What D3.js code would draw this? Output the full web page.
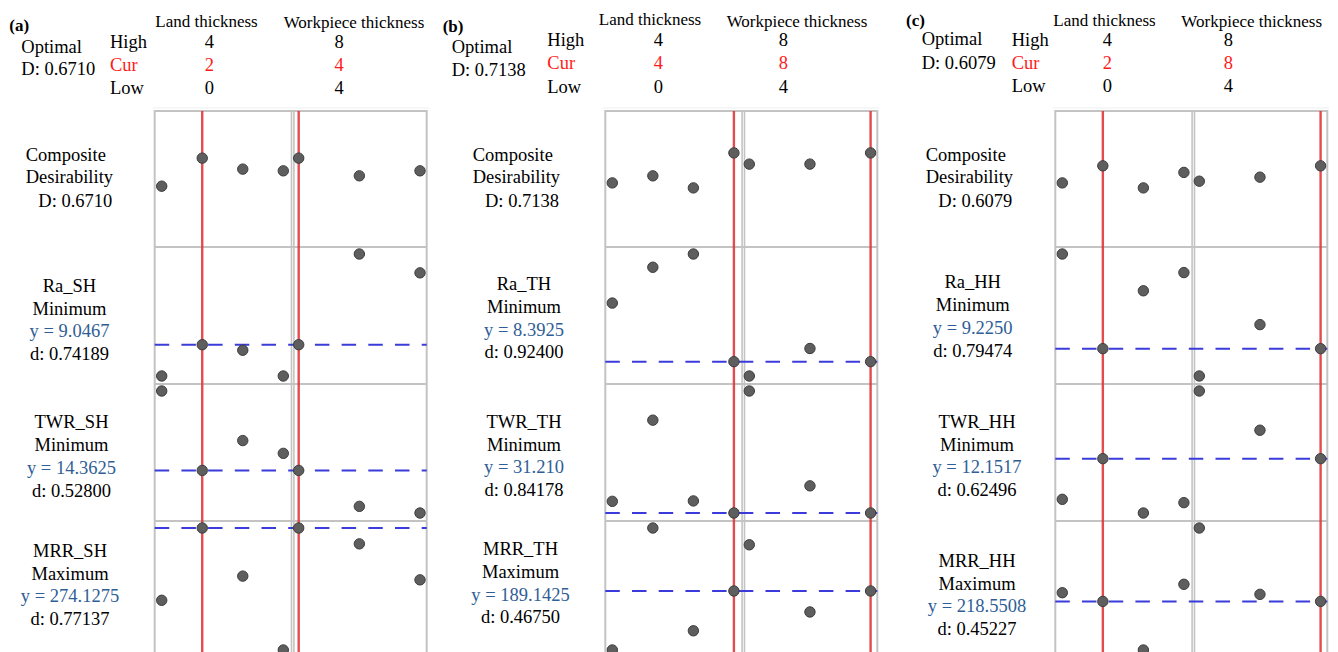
<!DOCTYPE html>
<html><head><meta charset="utf-8">
<script src="https://cdn.jsdelivr.net/npm/d3@7"></script>
<style>
body{margin:0;background:#fff;}
svg{display:block;}
text{font-family:"Liberation Serif","Times New Roman",serif;fill:#000;}
</style>
</head><body>
<svg id="chart" width="1338" height="652"></svg>
<script>
// ---------------- data ----------------
const panelIds = ["(a)", "(b)", "(c)"];
const optimalD = ["0.6710", "0.7138", "0.6079"];
const factorNames = ["Land thickness", "Workpiece thickness"];
const landLevels = ["0", "2", "3", "4"];
const workLevels = ["4", "6", "8"];
const highSettings = ["4", "8"];
const lowSettings = ["0", "4"];
const curSettings = [["2", "4"], ["4", "8"], ["2", "8"]];
const responseNames = [["Ra_SH", "TWR_SH", "MRR_SH"], ["Ra_TH", "TWR_TH", "MRR_TH"], ["Ra_HH", "TWR_HH", "MRR_HH"]];
const goals = ["Minimum", "Minimum", "Maximum"];
const predictedY = [["9.0467", "14.3625", "274.1275"], ["8.3925", "31.210", "189.1425"], ["9.2250", "12.1517", "218.5508"]];
const indivD = [["0.74189", "0.52800", "0.77137"], ["0.92400", "0.84178", "0.46750"], ["0.79474", "0.62496", "0.45227"]];

// composite desirability when varying each factor (others at current)
const compLand = [[0.441, 0.6710, 0.581, 0.567], [0.468, 0.526, 0.427, 0.7138], [0.468, 0.6079, 0.427, 0.554]];
const compWork = [[0.6710, 0.526, 0.567], [0.622, 0.622, 0.7138], [0.482, 0.515, 0.6079]];
// Ra
const raLand = [[8.10, 9.0467, 8.88, 8.10], [10.16, 11.24, 11.64, 8.3925], [12.08, 9.2250, 10.97, 11.52]];
const raWork = [[9.0467, 11.79, 11.22], [7.96, 8.79, 8.3925], [8.40, 9.95, 9.2250]];
// TWR
const twrLand = [[22.26, 14.3625, 17.33, 16.06], [32.37, 40.44, 32.41, 31.210], [8.11, 12.1517, 6.75, 7.78]];
const twrWork = [[14.3625, 10.79, 10.13], [43.34, 33.91, 31.210], [18.88, 14.98, 12.1517]];
// MRR
const mrrLand = [[202.4, 274.1275, 226.4, 153.1], [130.8, 251.4, 149.8, 189.1425], [227.2, 218.5508, 170.2, 235.6]];
const mrrWork = [[274.1275, 258.4, 222.7], [234.8, 168.4, 189.1425], [291.6, 225.6, 218.5508]];

// ---------------- layout ----------------
const panelLeft = [154.7, 605.3, 1055.3];
const landW = 138, workW = 134;
const rowTops = [111, 247, 384, 521];
const rowH = 137;
const gridCol = "#c3c3c3";
const redCol = "#e0393b";
const blueCol = "#3b3bdc";
const labelBlue = "#2f5e96";

const hdr = [
  {id:[9.3,31], land:[206.5,27], work:[354,27.5], opt:[21.3,53.3,75], hcl:[110,47.7,70.7,94], vals:[209.3,339],
   comp:[[25.7,160.7],[25.7,183.3],[38.3,206.7]], rowLbl:[[69.5,291.7],[71.5,428.3],[70,556.7]]},
  {id:[442.7,32], land:[650,25], work:[797,26.5], opt:[451.7,53.3,75.7], hcl:[547.3,45.5,69,93], vals:[658.3,783.3],
   comp:[[472.7,160.7],[472.7,183.3],[485,206.7]], rowLbl:[[524,290],[524,427.7],[520.5,555]]},
  {id:[906,25.5], land:[1104.5,26], work:[1251.7,27], opt:[921.7,45,69], hcl:[1011.7,45.5,69,92.3], vals:[1107.3,1228.3],
   comp:[[925.7,160.7],[925.7,183.3],[938.3,206.7]], rowLbl:[[972.7,288.3],[977,427.7],[977,566.7]]}
];

const svg = d3.select("#chart");
const FS = 18.5, HFS = 17;

panelIds.forEach((pid, p) => {
  const L = panelLeft[p];
  const H = hdr[p];
  const g = svg.append("g");

  // header texts
  g.append("text").attr("x", H.id[0]).attr("y", H.id[1]).attr("font-size", 17).attr("font-weight", "bold").text(pid);
  g.append("text").attr("x", H.land[0]).attr("y", H.land[1]).attr("font-size", HFS).attr("text-anchor", "middle").text(factorNames[0]);
  g.append("text").attr("x", H.work[0]).attr("y", H.work[1]).attr("font-size", HFS).attr("text-anchor", "middle").text(factorNames[1]);
  g.append("text").attr("x", H.opt[0]).attr("y", H.opt[1]).attr("font-size", FS).text("Optimal");
  g.append("text").attr("x", H.opt[0]).attr("y", H.opt[2]).attr("font-size", FS).text("D: " + optimalD[p]);
  const rowsHCL = [["High", highSettings, "#000"], ["Cur", curSettings[p], "#ff1a1a"], ["Low", lowSettings, "#000"]];
  rowsHCL.forEach((r, i) => {
    g.append("text").attr("x", H.hcl[0]).attr("y", H.hcl[i + 1]).attr("font-size", FS).style("fill", r[2]).text(r[0]);
    r[1].forEach((v, j) => {
      g.append("text").attr("x", H.vals[j]).attr("y", H.hcl[i + 1]).attr("font-size", FS)
        .attr("text-anchor", "middle").style("fill", r[2]).text(v);
    });
  });

  // faint top rule
  g.append("line").attr("x1", L - 2).attr("x2", L + landW + workW + 2).attr("y1", 108).attr("y2", 108)
    .attr("stroke", "#efefef").attr("stroke-width", 1);

  // scales
  const xLand = d3.scalePoint().domain(landLevels).range([L + 7, L + 128.6]);
  const xWork = d3.scalePoint().domain(workLevels).range([L + landW + 6, L + landW + 127.3]);

  const rows = [
    {land: compLand[p], work: compWork[p], cur: +optimalD[p], fixed: [0, 1], composite: true},
    {land: raLand[p], work: raWork[p], cur: +predictedY[p][0]},
    {land: twrLand[p], work: twrWork[p], cur: +predictedY[p][1]},
    {land: mrrLand[p], work: mrrWork[p], cur: +predictedY[p][2]}
  ];

  // grid
  const grid = g.append("g").attr("fill", "none").attr("stroke", gridCol);
  const bottom = rowTops[0] + rowH * 4 - 1;
  grid.append("rect").attr("x", L).attr("y", rowTops[0]).attr("width", landW + workW).attr("height", bottom - rowTops[0]).attr("stroke-width", 2);
  rowTops.slice(1).forEach(t => grid.append("line").attr("x1", L).attr("x2", L + landW + workW).attr("y1", t).attr("y2", t).attr("stroke-width", 2));
  grid.append("line").attr("x1", L + landW - 1.2).attr("x2", L + landW - 1.2).attr("y1", rowTops[0]).attr("y2", bottom).attr("stroke-width", 1.6);
  grid.append("line").attr("x1", L + landW + 1.2).attr("x2", L + landW + 1.2).attr("y1", rowTops[0]).attr("y2", bottom).attr("stroke-width", 1.6);

  // red current-setting lines
  [xLand(curSettings[p][0]), xWork(curSettings[p][1])].forEach(x => {
    g.append("line").attr("x1", x).attr("x2", x).attr("y1", rowTops[0]).attr("y2", bottom)
      .attr("stroke", redCol).attr("stroke-width", 2.4).attr("opacity", 0.9);
  });

  rows.forEach((row, r) => {
    const top = rowTops[r];
    const dom = row.fixed ? row.fixed : d3.extent(row.land.concat(row.work));
    const y = d3.scaleLinear().domain(dom).range([top + 129, top + 7]);

    // blue dashed current response line (responses only)
    if (!row.composite) {
      g.append("line").attr("x1", L).attr("x2", L + landW + workW).attr("y1", y(row.cur)).attr("y2", y(row.cur))
        .attr("stroke", blueCol).attr("stroke-width", 2).attr("stroke-dasharray", "14.5,12.2");
    }

    const pts = g.append("g");
    pts.selectAll("circle.l").data(row.land).join("circle")
      .attr("cx", (d, i) => xLand(landLevels[i])).attr("cy", d => y(d)).attr("r", 5.2)
      .attr("fill", "#5e5e5e").attr("stroke", "#3c3c3c").attr("stroke-width", 1);
    pts.selectAll("circle.w").data(row.work).join("circle")
      .attr("cx", (d, i) => xWork(workLevels[i])).attr("cy", d => y(d)).attr("r", 5.2)
      .attr("fill", "#5e5e5e").attr("stroke", "#3c3c3c").attr("stroke-width", 1);
  });

  // left labels: composite
  const compLines = ["Composite", "Desirability", "D: " + optimalD[p]];
  compLines.forEach((t, i) => g.append("text").attr("x", H.comp[i][0]).attr("y", H.comp[i][1]).attr("font-size", FS).text(t));

  // response labels
  for (let r = 0; r < 3; r++) {
    const [cx, by] = H.rowLbl[r];
    const lines = [[responseNames[p][r], "#000"], [goals[r], "#000"], ["y = " + predictedY[p][r], labelBlue], ["d: " + indivD[p][r], "#000"]];
    lines.forEach((ln, i) => g.append("text").attr("x", cx).attr("y", by + i * 22.8).attr("font-size", FS)
      .attr("text-anchor", "middle").style("fill", ln[1]).text(ln[0]));
  }
});
</script>
</body></html>
